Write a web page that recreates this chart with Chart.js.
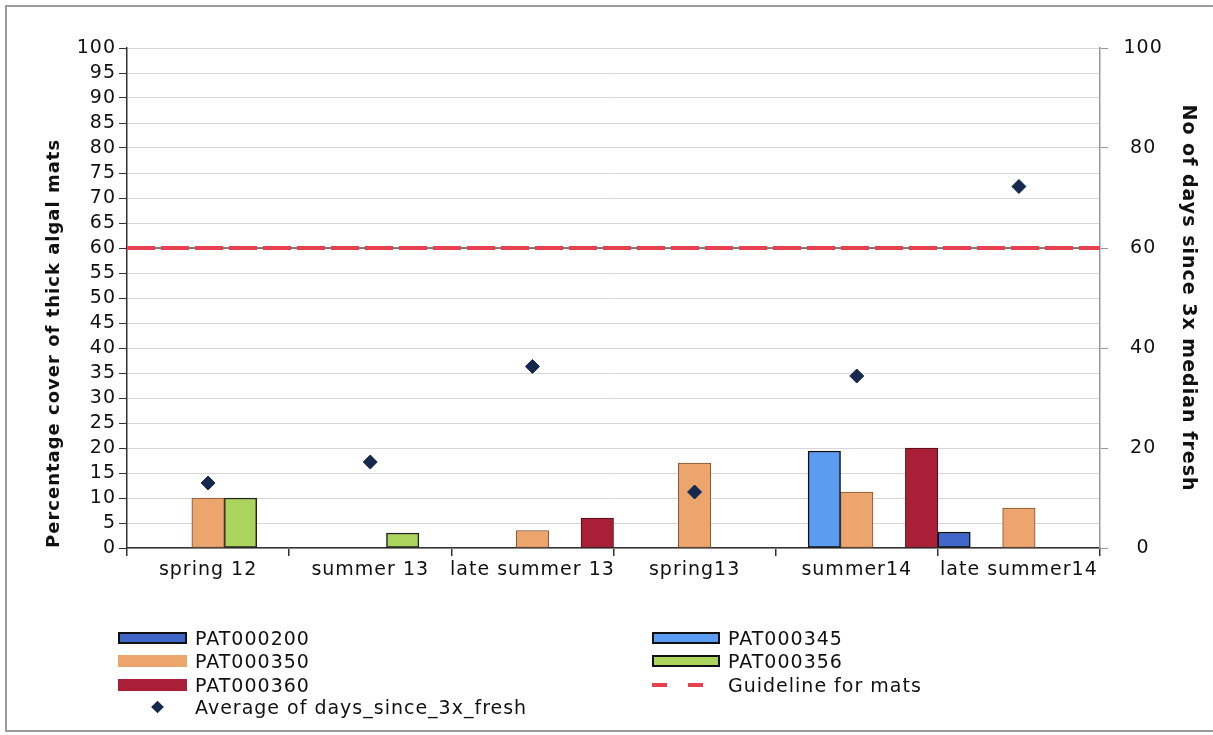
<!DOCTYPE html>
<html>
<head>
<meta charset="utf-8">
<script src="https://cdn.jsdelivr.net/npm/chart.js@4"></script>
<style>
  body { margin: 0; background: #fff; }
  #wrap { position: relative; width: 1213px; height: 735px; overflow: hidden; }
  #frame { position: absolute; left: 5px; top: 5px; width: 1210px; height: 727px;
           border: 2px solid #9a9a9a; border-right: none; box-sizing: border-box; }
  #chart { position: absolute; left: 0; top: 0; }
  .lbl { position: absolute; font: 19px "DejaVu Sans", sans-serif; color: #111; letter-spacing: 1px;
         line-height: 22px; white-space: nowrap; transform: translateY(-50%); }
  .sw { position: absolute; box-sizing: border-box; transform: translateY(-50%); }
</style>
</head>
<body>
<div id="wrap">
  <div id="frame"></div>
  <canvas id="chart" width="1213" height="735"></canvas>
  <div id="legend"></div>
</div>
<script>
const seasons = ["spring 12", "summer 13", "late summer 13", "spring13", "summer14", "late summer14"];

const pat000200 = [null, null, null, null, null, 3.2];
const pat000345 = [null, null, null, null, 19.4, null];
const pat000350 = [10, null, 3.5, 17, 11.2, 8];
const pat000356 = [10, 3, null, null, null, null];
const pat000360 = [null, null, 6, null, 20, null];

const avgDays = [13, 17.2, 36.3, 11.2, 34.4, 72.3];
const guideline = 60;

const coverTicks = { min: 0, max: 100, step: 5 };
const daysTicks = { min: 0, max: 100, step: 20 };

const FONT = "'DejaVu Sans', sans-serif";
const GUIDE_COLOR = "#e8404f";

function bar(label, data, bg, border, bw) {
  return {
    type: "bar", label, data,
    backgroundColor: bg, borderColor: border, borderWidth: bw,
    borderSkipped: false, barPercentage: 1, categoryPercentage: 1,
    yAxisID: "y", order: 2
  };
}

const datasets = [
  bar("PAT000200", pat000200, "#3f66c8", "#111", 1.5),
  bar("PAT000345", pat000345, "#5c9cf0", "#111", 1.5),
  bar("PAT000350", pat000350, "#eca56d", "#7e5030", 1),
  bar("PAT000356", pat000356, "#aad45c", "#222", 1.5),
  bar("PAT000360", pat000360, "#a81f37", "#4a0a14", 1),
  {
    type: "line", label: "Average of days_since_3x_fresh",
    data: avgDays, yAxisID: "y2", showLine: false,
    pointStyle: "rectRot", pointRadius: 7, pointHoverRadius: 7,
    backgroundColor: "#16284e", borderColor: "#16284e", order: 0
  }
];

// dashed guideline across the whole plot width at the guideline value
const guidelinePlugin = {
  id: "guideline",
  afterDatasetsDraw(chart) {
    const { ctx, chartArea, scales } = chart;
    const y = scales.y.getPixelForValue(guideline);
    ctx.save();
    ctx.beginPath();
    ctx.moveTo(chartArea.left, y);
    ctx.lineTo(chartArea.right, y);
    ctx.strokeStyle = "#555";
    ctx.lineWidth = 1.5;
    ctx.stroke();
    ctx.setLineDash([28, 6]);
    ctx.strokeStyle = GUIDE_COLOR;
    ctx.lineWidth = 4;
    ctx.stroke();
    ctx.restore();
  }
};

// slightly wider lettering for all canvas text
const spacingPlugin = {
  id: "spacing",
  beforeInit(chart) { chart.ctx.letterSpacing = "1px"; },
  beforeDraw(chart) { chart.ctx.letterSpacing = "1px"; }
};

new Chart(document.getElementById("chart"), {
  type: "bar",
  data: { labels: seasons, datasets },
  plugins: [spacingPlugin, guidelinePlugin],
  options: {
    responsive: false,
    animation: false,
    layout: { padding: { left: 40, right: 10, top: 48, bottom: 147 } },
    plugins: { legend: { display: false }, tooltip: { enabled: false } },
    scales: {
      x: {
        offset: true,
        grid: { drawOnChartArea: false, offset: true, tickLength: 8, tickColor: "#333", lineWidth: 1.5 },
        border: { color: "#333", width: 1.5 },
        ticks: { color: "#111", font: { family: FONT, size: 19 }, padding: 3, maxRotation: 0, autoSkip: false },
        afterFit: s => { s.height = 40; }
      },
      y: {
        position: "left", min: coverTicks.min, max: coverTicks.max,
        grid: { color: "#d6d6d6", tickColor: "#333", tickLength: 8, lineWidth: 1 },
        border: { color: "#333", width: 1.5 },
        ticks: { stepSize: coverTicks.step, color: "#111", font: { family: FONT, size: 19 }, padding: 3, autoSkip: false },
        title: { display: true, text: "Percentage cover of thick algal mats", color: "#111", align: "start",
                 font: { family: FONT, size: 18, weight: "bold" }, padding: { top: 4, bottom: 0 } },
        afterFit: s => { s.width = 87; }
      },
      y2: {
        position: "right", min: daysTicks.min, max: daysTicks.max,
        grid: { drawOnChartArea: false, color: "#999", tickLength: 8 },
        border: { color: "#999", width: 1.5 },
        ticks: { stepSize: daysTicks.step, color: "#111", font: { family: FONT, size: 19 }, padding: 17, crossAlign: "center" },
        title: { display: true, text: "No of days since 3x median fresh", color: "#111",
                 font: { family: FONT, size: 19, weight: "bold" }, padding: { top: 4, bottom: 0 } },
        afterFit: s => { s.width = 103; }
      }
    }
  }
});

// Legend in two columns below the plot
const legendItems = [
  { label: "PAT000200", kind: "bar", ds: 0, col: 0, row: 0 },
  { label: "PAT000345", kind: "bar", ds: 1, col: 1, row: 0 },
  { label: "PAT000350", kind: "bar", ds: 2, col: 0, row: 1 },
  { label: "PAT000356", kind: "bar", ds: 3, col: 1, row: 1 },
  { label: "PAT000360", kind: "bar", ds: 4, col: 0, row: 2 },
  { label: "Guideline for mats", kind: "dash", col: 1, row: 2 },
  { label: "Average of days_since_3x_fresh", kind: "point", ds: 5, col: 0, row: 3 }
];
const colX = [{ sw: 118, w: 69, text: 195 }, { sw: 652, w: 68, text: 728 }];
const rowY = [638, 661, 685, 707];
const legend = document.getElementById("legend");

function swatch(style) {
  const sw = document.createElement("div");
  sw.className = "sw";
  Object.assign(sw.style, style);
  legend.appendChild(sw);
}

legendItems.forEach(it => {
  const c = colX[it.col];
  const y = rowY[it.row];
  if (it.kind === "bar") {
    const d = datasets[it.ds];
    const dark = d.borderColor === "#111" || d.borderColor === "#222";
    swatch({
      left: c.sw + "px", top: y + "px", width: c.w + "px", height: "12px",
      background: d.backgroundColor, border: dark ? "2px solid #111" : "none"
    });
  } else if (it.kind === "point") {
    swatch({
      left: "153px", top: y + "px", width: "9px", height: "9px",
      background: datasets[it.ds].backgroundColor, transform: "translateY(-50%) rotate(45deg)"
    });
  } else {
    [0, 36].forEach(dx => swatch({
      left: (c.sw + dx) + "px", top: y + "px", width: "15px", height: "4px", background: GUIDE_COLOR
    }));
  }
  const t = document.createElement("div");
  t.className = "lbl";
  t.style.left = c.text + "px";
  t.style.top = y + "px";
  t.textContent = it.label;
  legend.appendChild(t);
});
</script>
</body>
</html>
